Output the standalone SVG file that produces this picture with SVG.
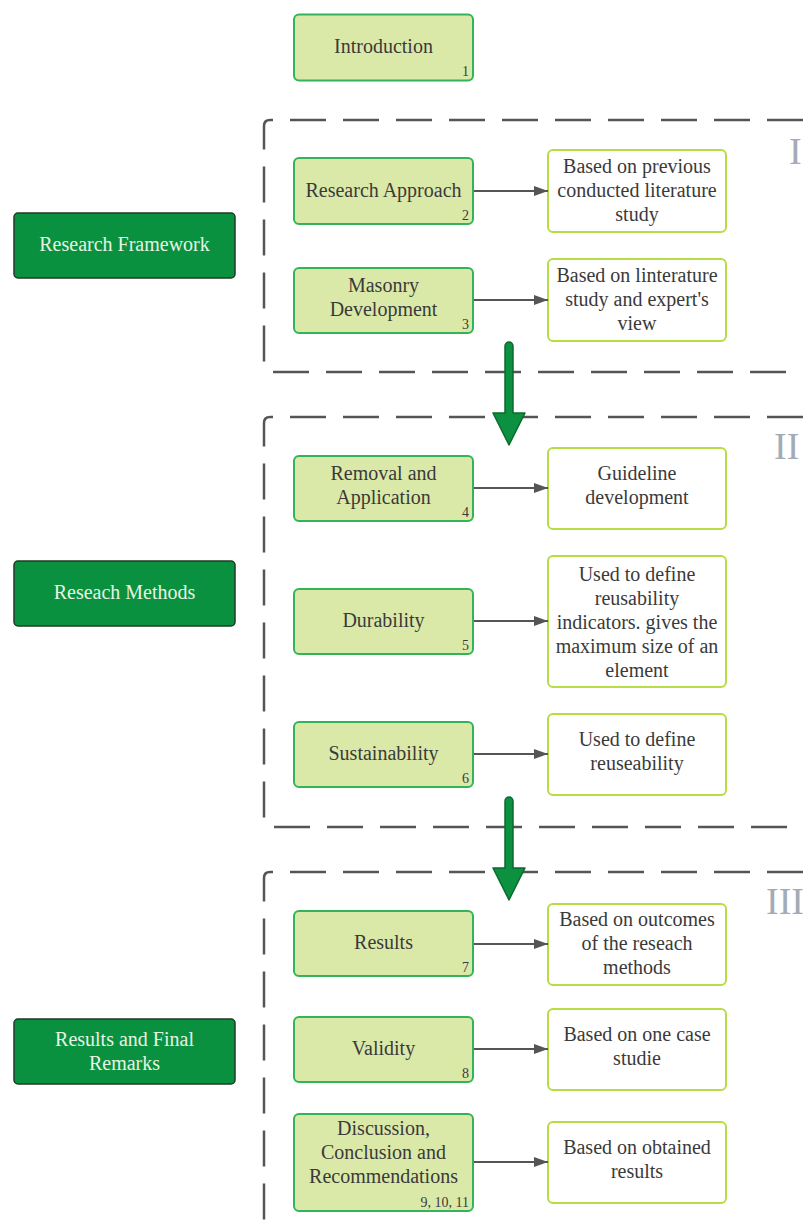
<svg xmlns="http://www.w3.org/2000/svg" width="803" height="1225" viewBox="0 0 803 1225" font-family="'Liberation Serif', 'DejaVu Serif', serif">
<style>
text{font-family:'Liberation Serif','DejaVu Serif',serif;}
.lg{fill:#dbe9a8;stroke:#33b35a;stroke-width:2;}
.wb{fill:#ffffff;stroke:#b6dd45;stroke-width:2;}
.dg{fill:#0a913f;stroke:#1f3a27;stroke-width:1.5;}
.t{font-size:20px;fill:#3a3a3a;text-anchor:middle;}
.tw{font-size:20px;fill:#e6f4e4;text-anchor:middle;}
.n{font-size:14px;fill:#3a3a3a;text-anchor:end;}
.frame{fill:none;stroke:#555;stroke-width:2.5;stroke-dasharray:36 17;}
.rn{font-size:38px;fill:#a3abb6;}
.conn{stroke:#555;stroke-width:2;fill:none;marker-end:url(#ah);}
.big{fill:#0b9140;stroke:#0b6a2e;stroke-width:1.5;stroke-linejoin:round;}
</style>
<defs>
<marker id="ah" markerWidth="14" markerHeight="10" refX="14" refY="5" orient="auto" markerUnits="userSpaceOnUse">
<path d="M0,0 L14,5 L0,10 Z" fill="#555"/>
</marker>
</defs>

<g id="frames">
<path class="frame" d="M803,120 H270 Q264,120 264,126 V366 Q264,372 270,372 H803"/>
<path class="frame" d="M803,417 H270 Q264,417 264,423 V821 Q264,827 270,827 H803"/>
<path class="frame" d="M803,872 H270 Q264,872 264,878 V1225"/>
<text class="rn" x="789" y="164">I</text>
<text class="rn" x="774" y="459">II</text>
<text class="rn" x="766" y="914">III</text>
</g>

<g id="n-intro"><rect class="lg" x="294" y="14.5" width="179" height="66" rx="5"/><text class="t" x="383.5" y="53">Introduction</text><text class="n" x="469" y="76">1</text></g>

<g id="n-rf"><rect class="dg" x="14" y="213" width="221" height="65" rx="4"/><text class="tw" x="124.5" y="251">Research Framework</text></g>
<g id="n-rm"><rect class="dg" x="14" y="561" width="221" height="65" rx="4"/><text class="tw" x="124.5" y="599">Reseach Methods</text></g>
<g id="n-rfr"><rect class="dg" x="14" y="1019" width="221" height="65" rx="4"/><text class="tw" x="124.5" y="1046">Results and Final</text><text class="tw" x="124.5" y="1070">Remarks</text></g>

<g id="n2"><rect class="lg" x="294" y="158" width="179" height="66" rx="5"/><text class="t" x="383.5" y="197">Research Approach</text><text class="n" x="469" y="220">2</text></g>
<g id="n3"><rect class="lg" x="294" y="268" width="179" height="65" rx="5"/><text class="t" x="383.5" y="292">Masonry</text><text class="t" x="383.5" y="316">Development</text><text class="n" x="469" y="329">3</text></g>
<g id="n4"><rect class="lg" x="294" y="456" width="179" height="65" rx="5"/><text class="t" x="383.5" y="480">Removal and</text><text class="t" x="383.5" y="504">Application</text><text class="n" x="469" y="517">4</text></g>
<g id="n5"><rect class="lg" x="294" y="589" width="179" height="65" rx="5"/><text class="t" x="383.5" y="627">Durability</text><text class="n" x="469" y="650">5</text></g>
<g id="n6"><rect class="lg" x="294" y="722" width="179" height="65" rx="5"/><text class="t" x="383.5" y="760">Sustainability</text><text class="n" x="469" y="783">6</text></g>
<g id="n7"><rect class="lg" x="294" y="911" width="179" height="65" rx="5"/><text class="t" x="383.5" y="949">Results</text><text class="n" x="469" y="972">7</text></g>
<g id="n8"><rect class="lg" x="294" y="1017" width="179" height="65" rx="5"/><text class="t" x="383.5" y="1055">Validity</text><text class="n" x="469" y="1078">8</text></g>
<g id="n9"><rect class="lg" x="294" y="1114" width="179" height="97" rx="5"/><text class="t" x="383.5" y="1135">Discussion,</text><text class="t" x="383.5" y="1159">Conclusion and</text><text class="t" x="383.5" y="1183">Recommendations</text><text class="n" x="469" y="1207">9, 10, 11</text></g>

<g id="w2"><rect class="wb" x="548" y="150" width="178" height="82" rx="5"/><text class="t" x="637" y="173">Based on previous</text><text class="t" x="637" y="197">conducted literature</text><text class="t" x="637" y="221">study</text></g>
<g id="w3"><rect class="wb" x="548" y="259" width="178" height="82" rx="5"/><text class="t" x="637" y="282">Based on linterature</text><text class="t" x="637" y="306">study and expert's</text><text class="t" x="637" y="330">view</text></g>
<g id="w4"><rect class="wb" x="548" y="448" width="178" height="81" rx="5"/><text class="t" x="637" y="480">Guideline</text><text class="t" x="637" y="504">development</text></g>
<g id="w5"><rect class="wb" x="548" y="556" width="178" height="131" rx="5"/><text class="t" x="637" y="581">Used to define</text><text class="t" x="637" y="605">reusability</text><text class="t" x="637" y="629">indicators. gives the</text><text class="t" x="637" y="653">maximum size of an</text><text class="t" x="637" y="677">element</text></g>
<g id="w6"><rect class="wb" x="548" y="714" width="178" height="81" rx="5"/><text class="t" x="637" y="746">Used to define</text><text class="t" x="637" y="770">reuseability</text></g>
<g id="w7"><rect class="wb" x="548" y="904" width="178" height="81" rx="5"/><text class="t" x="637" y="926">Based on outcomes</text><text class="t" x="637" y="950">of the reseach</text><text class="t" x="637" y="974">methods</text></g>
<g id="w8"><rect class="wb" x="548" y="1009" width="178" height="81" rx="5"/><text class="t" x="637" y="1041">Based on one case</text><text class="t" x="637" y="1065">studie</text></g>
<g id="w9"><rect class="wb" x="548" y="1122" width="178" height="81" rx="5"/><text class="t" x="637" y="1154">Based on obtained</text><text class="t" x="637" y="1178">results</text></g>

<g id="connectors">
<line class="conn" x1="474" y1="191" x2="548" y2="191"/>
<line class="conn" x1="474" y1="300" x2="548" y2="300"/>
<line class="conn" x1="474" y1="488" x2="548" y2="488"/>
<line class="conn" x1="474" y1="621" x2="548" y2="621"/>
<line class="conn" x1="474" y1="754" x2="548" y2="754"/>
<line class="conn" x1="474" y1="944" x2="548" y2="944"/>
<line class="conn" x1="474" y1="1049" x2="548" y2="1049"/>
<line class="conn" x1="474" y1="1162" x2="548" y2="1162"/>
<path class="big" d="M505,346 A4,4 0 0 1 513,346 V413 H525 L509,445 L493,413 H505 Z"/>
<path class="big" d="M505,801 A4,4 0 0 1 513,801 V868 H525 L509,900 L493,868 H505 Z"/>
</g>
</svg>
